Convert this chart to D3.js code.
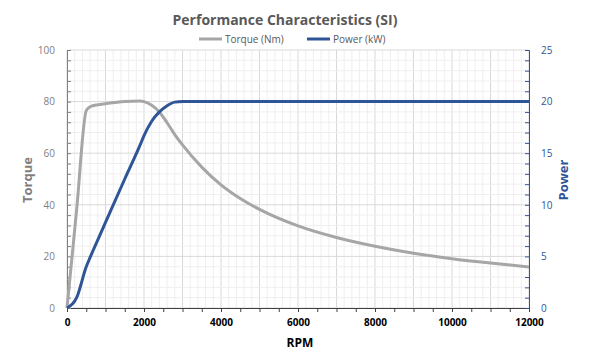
<!DOCTYPE html>
<html><head><meta charset="utf-8">
<script src="https://cdn.jsdelivr.net/npm/d3@7"></script>
<style>body{margin:0;background:#fff}svg{font-family:"Open Sans",sans-serif}</style>
</head><body><svg id="c" width="600" height="360"></svg>
<script>
const rpm    = [0, 250, 500, 600, 800, 1000, 1500, 1900, 2000, 2200, 2400, 2600, 2800, 3000, 3500, 4000, 4500, 5000, 6000, 7000, 8000, 9000, 10000, 11000, 12000];
const torque = [0, 38, 76.5, 78, 78.8, 79.2, 80, 80.2, 80, 78.6, 76, 71.8, 67.2, 63.2, 54.6, 47.7, 42.4, 38.2, 31.8, 27.3, 23.9, 21.2, 19.1, 17.4, 15.9];
const power  = [0, 1.0, 4.0, 4.9, 6.6, 8.3, 12.5, 15.8, 16.7, 18.1, 19.0, 19.6, 19.95, 20, 20, 20, 20, 20, 20, 20, 20, 20, 20, 20, 20];
const xTicks = [0, 2000, 4000, 6000, 8000, 10000, 12000];
const yTicksL = [0, 20, 40, 60, 80, 100];
const yTicksR = [0, 5, 10, 15, 20, 25];
const title = "Performance Characteristics (SI)";
const legendNames = ["Torque (Nm)", "Power (kW)"];

const svg = d3.select("#c");
const L = 67, R = 529, T = 50, B = 308;
const x = d3.scaleLinear().domain([0, 12000]).range([L, R]);
const yL = d3.scaleLinear().domain([0, 100]).range([B, T]);
const yR = d3.scaleLinear().domain([0, 25]).range([B, T]);
const grey = "#a6a6a6", blue = "#2f5597";

const g = svg.append("g");
g.selectAll(".vm").data(d3.range(0, 12001, 200)).join("line")
  .attr("x1", d => x(d)).attr("x2", d => x(d)).attr("y1", T).attr("y2", B)
  .attr("stroke", d => d % 1000 === 0 ? "#d9d9d9" : "#efefef").attr("stroke-width", 1);
g.selectAll(".hm").data(d3.range(0, 101, 4)).join("line")
  .attr("y1", d => yL(d)).attr("y2", d => yL(d)).attr("x1", L).attr("x2", R)
  .attr("stroke", d => d % 20 === 0 ? "#d9d9d9" : "#efefef").attr("stroke-width", 1);

const ax = svg.append("g").attr("transform", `translate(0,${B})`)
  .call(d3.axisBottom(x).tickValues(d3.range(0, 12001, 500)).tickSize(4).tickFormat(d => xTicks.includes(d) ? d : ""));
ax.select(".domain").attr("stroke", "#404040");
ax.selectAll(".tick line").attr("stroke", "#404040");
ax.selectAll("text").attr("font-size", 10).attr("font-weight", "bold").attr("fill", "#000").attr("font-family", "Open Sans").attr("dy", "1.1em");

const ayl = svg.append("g").attr("transform", `translate(${L},0)`)
  .call(d3.axisLeft(yL).tickValues(d3.range(0, 101, 4)).tickSize(-4).tickPadding(12).tickFormat(d => yTicksL.includes(d) ? d : ""));
ayl.select(".domain").attr("stroke", "#808080");
ayl.selectAll(".tick line").attr("stroke", "#808080");
ayl.selectAll("text").attr("font-size", 10).attr("fill", "#7f7f7f").attr("font-family", "Open Sans");

const ayr = svg.append("g").attr("transform", `translate(${R},0)`)
  .call(d3.axisRight(yR).tickValues(d3.range(0, 26, 1)).tickSize(-4).tickPadding(12).tickFormat(d => yTicksR.includes(d) ? d : ""));
ayr.select(".domain").attr("stroke", blue);
ayr.selectAll(".tick line").attr("stroke", blue);
ayr.selectAll("text").attr("font-size", 10).attr("fill", blue).attr("font-family", "Open Sans");

const data = rpm.map((r, i) => ({r, t: torque[i], p: power[i]}));
svg.append("path").datum(data).attr("fill", "none").attr("stroke", grey).attr("stroke-width", 3)
  .attr("d", d3.line().x(d => x(d.r)).y(d => yL(d.t)).curve(d3.curveMonotoneX));
svg.append("path").datum(data).attr("fill", "none").attr("stroke", blue).attr("stroke-width", 3)
  .attr("d", d3.line().x(d => x(d.r)).y(d => yR(d.p)).curve(d3.curveMonotoneX));

svg.append("text").attr("x", 285).attr("y", 25).attr("text-anchor", "middle")
  .attr("font-size", 14).attr("font-weight", "bold").attr("fill", "#595959").text(title);
const lg = [{x: 199, c: grey, n: legendNames[0]}, {x: 307, c: blue, n: legendNames[1]}];
lg.forEach(d => {
  svg.append("line").attr("x1", d.x).attr("x2", d.x + 23).attr("y1", 39).attr("y2", 39).attr("stroke", d.c).attr("stroke-width", 3);
  svg.append("text").attr("x", d.x + 26).attr("y", 42.5).attr("font-size", 10).attr("fill", "#595959").text(d.n);
});

svg.append("text").attr("x", 300).attr("y", 347).attr("text-anchor", "middle").attr("font-size", 12)
  .attr("font-weight", "bold").attr("fill", "#000").text("RPM");
svg.append("text").attr("transform", "translate(32,180) rotate(-90)").attr("text-anchor", "middle")
  .attr("font-size", 13).attr("font-weight", "bold").attr("fill", "#7f7f7f").text("Torque");
svg.append("text").attr("transform", "translate(568,180) rotate(-90)").attr("text-anchor", "middle")
  .attr("font-size", 13).attr("font-weight", "bold").attr("fill", blue).text("Power");
</script></body></html>
